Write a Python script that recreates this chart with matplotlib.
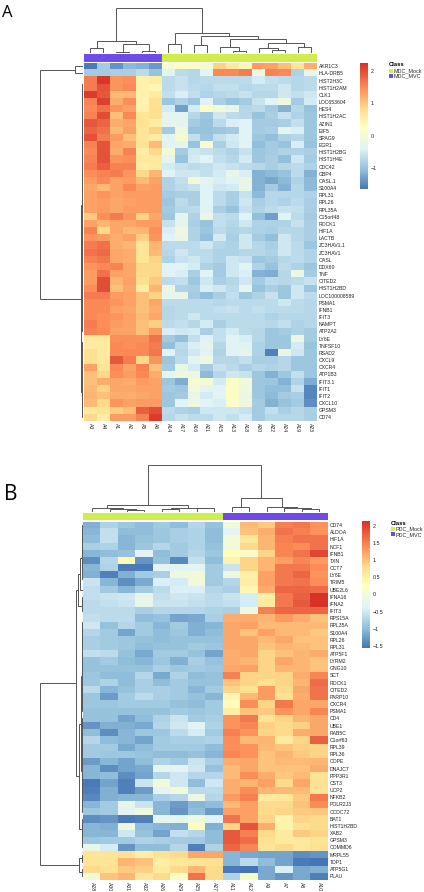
import numpy as np
import matplotlib
matplotlib.use('Agg')
import matplotlib.pyplot as plt
from matplotlib.colors import LinearSegmentedColormap
from matplotlib.patches import Rectangle

W, H = 424, 892

# Panel A data
a_samples = ['A3', 'A4', 'A1', 'A2', 'A5', 'A6', 'A14', 'A17', 'A16', 'A21', 'A15', 'A13',
             'A18', 'A20', 'A22', 'A24', 'A19', 'A23']
a_genes = ['AKR1C3', 'HLA-DRB5', 'HIST2H3C', 'HIST1H2AM', 'CLK1', 'LOC653604', 'HES4', 'HIST1H2AC',
           'AZIN1', 'EIF5', 'SPAG9', 'EGR1', 'HIST1H2BG', 'HIST1H4E', 'CDC42', 'GBP4', 'OASL.1',
           'S100A4', 'RPL31', 'RPL26', 'RPL35A', 'C15orf48', 'ROCK1', 'HIF1A', 'LACTB', 'ZC3HAV1.1',
           'ZC3HAV1', 'OASL', 'DDX60', 'TNF', 'CITED2', 'HIST1H2BD', 'LOC100008589', 'PSMA1', 'IFNB1',
           'IFIT3', 'NAMPT', 'ATP2A2', 'LY6E', 'TNFSF10', 'RSAD2', 'CXCL9', 'CXCR4', 'ATP1B3', 'IFIT3.1',
           'IFIT1', 'IFIT2', 'CXCL10', 'GPSM3', 'CD74']
a_values = [
    [-1.6, -0.9, -1.4, -1.1, -1.15, -1.35, 0.1, 0.25, 0.2, 0.05, 0.9, 0.6, 0.4, 1.35, 1.3, 1.05, 0.7, 1.2],
    [-0.9, -0.9, -0.85, -0.85, -0.7, -1.0, -0.35, -0.7, -0.75, -0.3, 1.5, 1.5, 1.6, -0.1, 1.55, 1.5, -0.8, -0.2],
    [1.6, 2.2, 1.4, 1.45, 0.5, 0.55, -0.7, -0.6, -0.75, -0.7, -0.7, -0.7, -0.7, -0.5, -0.65, -0.7, -0.75, -0.7],
    [1.6, 1.95, 1.4, 1.5, 0.5, 0.4, -0.7, -0.6, -0.7, -0.75, -0.65, -0.65, -0.75, -0.7, -0.7, -0.55, -0.75, -0.7],
    [2.15, 1.9, 1.1, 1.1, 0.5, 0.6, -0.65, -0.45, -0.65, -0.8, -0.75, -0.7, -0.6, -0.75, -0.75, -0.55, -0.65, -0.55],
    [1.55, 2.1, 1.2, 1.45, 0.45, 0.8, -0.95, -0.8, -0.95, -0.4, -0.85, -1.0, -0.9, -0.6, -0.4, -0.1, -0.9, -0.5],
    [1.5, 1.7, 1.4, 1.3, 0.5, 0.8, -0.5, -1.3, -0.5, 0.2, -0.05, -0.2, -0.75, -0.7, -0.9, -1.15, -0.75, -1.0],
    [1.55, 2.0, 1.05, 1.5, 0.7, 0.8, -0.3, -0.3, -0.75, -0.95, -0.55, -0.7, -0.75, -1.0, -0.85, -0.6, -0.8, -0.95],
    [1.9, 1.8, 1.2, 1.25, 0.75, 0.55, -0.3, -0.3, -0.9, -1.0, -0.7, -0.45, -0.4, -0.9, -0.9, -0.85, -0.65, -0.95],
    [1.8, 1.7, 1.1, 1.3, 0.7, 0.9, -0.9, -0.1, -1.0, -1.0, -0.95, -0.9, -0.4, -0.9, -0.85, -0.25, -0.45, -0.95],
    [1.95, 1.6, 1.35, 1.05, 0.7, 0.6, -0.35, 0.05, -0.65, -0.95, -0.65, -0.5, -0.4, -0.95, -1.05, -0.8, -0.75, -0.95],
    [1.55, 1.95, 1.25, 1.2, 0.75, 1.1, -0.4, -0.25, -1.0, 0.1, -0.85, -0.55, -0.35, -1.05, -0.9, -1.0, -0.45, -1.0],
    [1.5, 1.95, 1.2, 1.55, 0.55, 0.85, 0.0, -0.9, -0.55, -0.6, -0.7, -0.8, -0.6, -0.95, -0.9, -0.8, -0.8, -0.85],
    [1.55, 1.95, 1.4, 1.45, 0.65, 0.65, -0.3, -1.0, -0.5, -0.4, -0.65, -0.75, -0.5, -0.95, -0.85, -1.05, -0.55, -0.9],
    [1.6, 1.85, 1.55, 1.55, 0.55, 0.6, -0.5, -0.6, -0.7, -0.65, -0.55, -0.6, -0.7, -0.75, -0.85, -0.75, -0.7, -0.8],
    [1.45, 1.55, 1.6, 1.4, 0.85, 1.15, -0.35, -0.55, -0.55, -0.65, -0.5, -0.2, -0.45, -1.15, -1.1, -1.0, -0.7, -1.15],
    [1.35, 1.5, 1.3, 1.35, 1.1, 1.3, -0.8, -0.65, 0.0, -0.3, -0.45, -0.4, -0.2, -1.15, -1.25, -1.1, -0.8, -1.1],
    [1.25, 1.1, 1.3, 1.5, 1.3, 1.35, -0.8, -0.7, -0.6, -0.4, -0.55, -0.5, -0.2, -1.15, -0.9, -1.15, -0.75, -1.1],
    [1.3, 1.4, 1.3, 1.35, 1.35, 1.35, -0.9, -0.85, -0.85, -0.4, -0.7, -0.85, -0.6, -1.1, -0.75, -0.75, -0.75, -0.8],
    [1.3, 1.35, 1.25, 1.3, 1.35, 1.35, -0.95, -0.7, -0.85, -0.4, -0.7, -0.85, -0.55, -0.85, -0.75, -0.8, -0.7, -0.85],
    [1.3, 1.35, 1.25, 1.35, 1.35, 1.35, -0.9, -0.75, -0.7, -0.4, -0.85, -1.0, -0.6, -0.8, -0.7, -0.6, -0.65, -0.85],
    [1.0, 1.45, 1.6, 1.4, 0.9, 1.25, -0.95, -0.3, -0.8, -0.15, -0.65, -0.7, -0.4, -1.05, -1.3, -0.35, -0.7, -0.9],
    [1.3, 1.15, 1.25, 1.25, 1.35, 1.35, -0.6, -0.25, -0.85, -1.0, -0.65, -0.75, -0.55, -0.8, -0.8, -0.8, -0.6, -0.85],
    [1.55, 0.85, 1.25, 1.1, 1.15, 1.45, -0.45, -0.1, -0.8, -0.95, -0.7, -0.8, -0.75, -0.8, -0.85, -0.75, -0.75, -0.85],
    [1.4, 1.35, 1.2, 1.3, 0.95, 1.4, -0.4, -0.15, -0.8, -1.05, -0.5, -0.85, -0.55, -0.9, -1.05, -0.55, -0.75, -0.85],
    [1.6, 1.7, 1.2, 1.15, 0.7, 1.15, -0.7, -0.7, -0.7, -0.55, -0.75, -0.8, -0.55, -0.75, -0.85, -0.55, -0.7, -0.95],
    [1.7, 1.75, 1.25, 1.2, 0.7, 1.1, -0.75, -0.55, -0.7, -0.7, -0.8, -0.8, -0.75, -0.75, -0.8, -0.55, -0.7, -0.8],
    [1.55, 1.65, 1.25, 1.2, 0.7, 0.9, -0.8, -0.6, -0.55, -0.7, -0.8, -0.55, -0.6, -0.95, -0.9, -0.75, -0.7, -0.8],
    [1.4, 1.5, 1.55, 1.25, 0.85, 0.85, -0.4, -0.4, -0.5, -0.8, -0.9, -0.55, -0.35, -0.8, -1.0, -0.7, -0.8, -0.95],
    [1.35, 1.7, 1.3, 1.25, 0.85, 0.85, -0.4, -0.45, -0.85, -0.4, -0.9, -0.55, -0.45, -1.15, -1.2, -0.75, -0.15, -0.9],
    [1.35, 2.0, 1.15, 1.3, 0.8, 1.0, -0.7, -0.65, -0.95, -0.55, -0.85, -0.75, -0.55, -0.9, -0.7, -0.75, -0.7, -0.6],
    [1.45, 2.0, 1.05, 1.25, 0.55, 1.15, -0.15, -0.8, -0.85, -0.45, -0.55, -0.7, -0.25, -1.0, -0.85, -0.95, -0.55, -0.95],
    [1.6, 1.6, 1.35, 1.3, 1.05, 0.9, -0.25, -0.2, -0.9, -1.05, -0.85, -0.65, -0.95, -0.8, -0.6, -0.95, -0.55, -0.7],
    [1.5, 1.5, 1.4, 1.3, 1.05, 1.25, -0.7, -0.7, -0.7, -0.7, -0.75, -0.7, -0.7, -0.7, -0.7, -0.55, -0.7, -0.75],
    [1.5, 1.5, 1.3, 1.25, 1.05, 1.2, -0.75, -0.7, -0.7, -0.7, -0.65, -0.6, -0.7, -0.65, -0.7, -0.7, -0.7, -0.75],
    [1.5, 1.45, 1.4, 1.3, 1.1, 1.25, -0.75, -0.7, -0.55, -0.7, -0.7, -0.7, -0.7, -0.7, -0.8, -0.75, -0.75, -0.75],
    [1.6, 1.45, 1.35, 1.3, 1.05, 0.95, -0.7, -0.65, -0.75, -0.5, -0.85, -0.7, -0.7, -0.7, -0.75, -0.65, -0.8, -0.75],
    [1.55, 1.5, 1.3, 1.3, 1.05, 1.35, -0.45, -0.55, -0.5, -0.85, -0.65, -0.5, -0.7, -0.75, -0.95, -0.9, -0.8, -0.9],
    [0.65, 0.65, 1.45, 1.45, 1.45, 1.7, -0.9, -1.05, -0.65, -0.4, -0.65, -0.35, -0.45, -0.75, -0.95, -0.95, -0.15, -0.9],
    [0.6, 0.6, 1.5, 1.45, 1.5, 1.6, -1.05, -0.7, -0.45, -0.25, -0.75, -0.35, -0.35, -0.8, -0.95, -0.95, -0.5, -1.0],
    [0.8, 0.6, 1.5, 1.5, 1.5, 1.65, -0.35, -0.75, -0.55, -0.4, -0.8, -0.4, -0.25, -0.8, -1.55, -0.2, -0.55, -0.95],
    [0.8, 0.65, 1.9, 1.6, 0.85, 1.4, -0.95, -0.7, -0.3, -0.1, -0.75, -0.75, -0.65, -0.85, -0.85, -0.75, -0.95, -0.95],
    [1.3, 0.7, 1.5, 1.3, 1.55, 1.05, -0.9, -0.2, -0.5, -0.9, -0.6, -0.7, -0.85, -0.75, -0.8, -0.75, -0.95, -0.95],
    [1.05, 0.85, 1.45, 1.35, 1.5, 1.2, -0.3, -0.1, -0.15, -1.1, -0.75, -0.55, -0.6, -0.95, -1.15, -0.95, -0.65, -0.95],
    [1.05, 1.2, 1.25, 1.2, 1.35, 1.3, -0.95, -1.2, 0.05, 0.05, -0.5, 0.2, -0.05, -0.95, -0.95, -1.15, -0.8, -1.2],
    [1.1, 0.9, 1.25, 1.25, 1.3, 1.3, -0.9, -0.95, -0.05, -0.3, -0.4, 0.15, -0.1, -0.95, -1.05, -1.05, -0.6, -1.5],
    [1.15, 1.05, 1.2, 1.2, 1.25, 1.3, -0.95, -0.9, -0.2, -0.5, -0.3, 0.2, -0.15, -0.95, -1.1, -0.9, -0.85, -1.5],
    [1.1, 0.85, 1.4, 1.3, 1.35, 1.35, -0.95, -0.4, -0.1, -0.4, -0.45, 0.15, -0.1, -0.9, -1.15, -1.0, -0.9, -1.45],
    [0.65, 0.75, 0.95, 1.05, 1.85, 2.0, -0.7, -0.8, -0.85, -0.55, -0.55, -0.55, -0.6, -0.9, -0.65, -0.85, -0.75, -0.85],
    [0.85, 0.55, 1.35, 1.35, 1.55, 2.15, -0.75, -0.6, -0.7, -0.7, -0.55, -0.65, -0.5, -0.9, -0.75, -0.75, -0.75, -0.85],
]
a_classes = ['MDC_MVC'] * 6 + ['MDC_Mock'] * 12
# merge height between neighbouring leaves, in pixels of the dendrogram
a_col_gaps = [4.4, 12, 1, 8.7, 2, 44.4, 8.7, 19.4, 8, 16.7, 5.4, 2, 13.4, 5, 2.7, 9.4, 5.4]
a_row_gaps = [7.7, 43.3, 0.5, 0.7, 0.9, 0.6, 1.0, 0.5, 0.8, 0.6, 0.9, 0.5, 0.6, 0.4, 1.3, 0.5, 0.6, 1.5, 0.4,
              0.3, 0.3, 0.9, 0.5, 0.7, 0.6, 1.1, 0.5, 0.4, 0.7, 0.9, 0.6, 0.8, 1.0, 0.5, 0.3, 0.4, 0.6,
              1.9, 0.5, 0.7, 1.1, 0.8, 1.3, 0.9, 0.5, 0.4, 0.7, 1.5, 0.8]

# Panel B data
b_samples = ['A28', 'A30', 'A31', 'A32', 'A26', 'A29', 'A25', 'A27', 'A11', 'A12', 'A9', 'A7', 'A8', 'A10']
b_genes = ['CD74', 'ALDOA', 'HIF1A', 'NCF1', 'IFNB1', 'TXN', 'CCT7', 'LY6E', 'TRIM5', 'UBE2L6', 'IFNA16', 'IFNA2',
           'IFIT3', 'RPS15A', 'RPL35A', 'S100A4', 'RPL26', 'RPL31', 'ATP5F1', 'LYRM2', 'GNG10', 'SCT', 'ROCK1',
           'CITED2', 'PARP10', 'CXCR4', 'PSMA1', 'CD4', 'UBE1', 'RAB5C', 'C1orf63', 'RPL39', 'RPL36', 'COPE',
           'DNAJC7', 'PPP3R1', 'CST3', 'UCP2', 'NFKB2', 'POLR2J3', 'CCDC72', 'BAT1', 'HIST1H2BD', 'XAB2', 'GPSM3',
           'COMMD6', 'MRPL55', 'TDP1', 'ATP5G1', 'PLAU']
b_values = [
    [-1.1, -0.75, -0.9, -1.0, -0.85, -1.0, -0.7, -0.95, -0.05, 1.05, 0.95, 1.5, 1.55, 1.35],
    [-1.05, -0.6, -1.0, -1.0, -0.9, -0.8, -0.75, -1.0, -0.3, 1.0, 1.15, 1.6, 1.5, 1.35],
    [-1.0, -0.6, -1.05, -0.95, -0.9, -0.8, -0.75, -1.0, 0.0, 0.65, 1.1, 1.5, 1.6, 1.6],
    [-0.8, -0.75, -1.05, -0.9, -0.7, -0.85, -0.75, -0.95, -0.05, 0.8, 1.1, 1.45, 1.4, 1.6],
    [-1.05, -1.0, -0.95, -0.35, -1.0, -0.85, -0.7, -0.9, 0.3, 0.15, 0.85, 1.45, 1.6, 1.95],
    [-1.35, -0.7, 0.35, -1.3, -0.95, -1.4, -0.6, -1.0, 0.45, 0.85, 1.1, 1.25, 1.45, 1.3],
    [-1.05, -0.75, -1.5, -1.5, -0.3, -0.3, -0.3, -0.85, -0.55, 0.85, 1.1, 1.55, 1.55, 1.4],
    [-1.1, -1.45, -1.1, -0.85, -0.8, -0.1, -0.05, -0.85, -0.1, 0.5, 1.25, 1.55, 1.7, 1.35],
    [-0.55, -1.05, -1.35, -1.15, -0.4, -0.45, -0.05, -0.85, -0.7, 0.55, 1.25, 1.55, 1.6, 1.4],
    [-0.6, -0.85, -1.05, -0.85, -0.65, -0.4, -0.4, -0.7, -0.8, 0.4, 1.15, 1.7, 1.7, 1.65],
    [-0.6, -0.55, -0.5, -0.2, -0.6, -0.5, -0.55, -0.65, -0.55, -0.45, 0.55, 1.55, 1.75, 2.1],
    [-0.65, -0.6, -0.55, -0.2, -0.55, -0.55, -0.6, -0.65, -0.6, -0.45, 0.6, 1.55, 1.8, 2.1],
    [-0.65, -0.65, -0.65, -0.8, -0.7, -0.7, -0.7, -0.75, -0.8, -0.1, 1.5, 1.7, 1.7, 1.7],
    [-0.6, -0.65, -0.65, -1.0, -0.95, -1.2, -1.15, -0.8, 1.15, 1.15, 1.1, 1.3, 1.15, 1.0],
    [-0.5, -0.95, -0.7, -0.85, -1.05, -0.85, -1.1, -1.05, 1.2, 1.25, 1.05, 1.05, 1.05, 1.05],
    [-0.7, -0.85, -1.2, -0.85, -1.0, -0.9, -1.1, -1.0, 1.2, 1.0, 1.25, 1.05, 1.05, 0.95],
    [-0.8, -0.85, -0.9, -0.95, -1.0, -0.95, -0.95, -0.95, 1.2, 1.2, 1.05, 1.2, 1.0, 1.0],
    [-0.8, -0.85, -0.9, -1.0, -0.95, -0.95, -0.85, -0.9, 1.2, 1.2, 1.0, 1.1, 1.05, 1.0],
    [-0.6, -0.65, -0.95, -1.15, -0.85, -0.85, -0.95, -1.2, 1.15, 1.2, 0.85, 1.0, 1.1, 1.15],
    [-0.95, -0.85, -1.0, -1.05, -0.9, -1.1, -0.8, -0.95, 1.15, 1.1, 0.85, 1.2, 1.1, 1.0],
    [-0.95, -0.95, -0.95, -0.95, -0.8, -0.9, -0.85, -0.9, 1.2, 1.25, 0.85, 1.1, 1.1, 1.0],
    [-0.9, -1.0, -1.0, -0.7, -1.15, -0.75, -1.0, -0.95, 1.5, 0.85, 0.85, 0.85, 1.15, 1.45],
    [-0.9, -0.75, -1.0, -0.8, -1.0, -0.85, -0.95, -0.95, 1.0, 0.85, 0.75, 0.85, 1.1, 1.65],
    [-0.65, -1.05, -0.95, -0.8, -0.8, -0.85, -1.05, -0.85, 0.85, 0.75, 1.3, 0.8, 1.2, 1.6],
    [-0.9, -1.25, -0.85, -0.65, -0.8, -0.85, -0.95, -1.05, 0.4, 1.05, 1.3, 0.75, 1.15, 1.6],
    [-0.9, -0.9, -0.85, -0.85, -0.85, -0.95, -1.0, -0.85, 0.3, 1.4, 0.85, 1.55, 1.2, 1.2],
    [-0.95, -0.95, -0.95, -0.95, -0.95, -0.85, -0.9, -0.85, 0.55, 1.0, 0.95, 1.35, 1.2, 1.45],
    [-0.95, -0.95, -1.2, -1.0, -0.75, -0.55, -0.85, -0.8, 1.35, 1.55, 0.7, 0.85, 1.1, 1.2],
    [-1.3, -1.1, -1.1, -1.15, -0.7, -0.5, -0.35, -0.75, 1.35, 1.45, 0.9, 0.8, 0.9, 1.2],
    [-1.0, -1.35, -1.05, -0.9, -0.9, -0.65, -0.45, -0.85, 1.5, 1.35, 0.85, 0.8, 1.15, 1.2],
    [-0.7, -1.0, -1.05, -1.2, -0.85, -0.8, -0.8, -0.75, 1.4, 1.05, 1.1, 0.6, 0.85, 1.75],
    [-0.85, -0.85, -1.15, -1.0, -0.85, -0.85, -0.85, -1.0, 1.4, 1.35, 1.05, 1.0, 0.9, 0.85],
    [-0.85, -0.9, -0.9, -0.95, -1.0, -1.0, -0.95, -1.05, 1.45, 1.35, 1.0, 1.1, 0.95, 0.85],
    [-1.25, -1.05, -1.2, -1.0, -0.75, -0.85, -0.55, -0.8, 1.15, 1.2, 1.0, 1.05, 1.05, 1.1],
    [-1.05, -1.35, -1.2, -1.15, -0.25, -0.3, -0.5, -0.95, 1.05, 1.2, 1.0, 1.0, 1.0, 1.15],
    [-1.05, -1.0, -1.35, -1.2, -0.7, -0.5, -0.7, -0.7, 1.05, 1.4, 1.15, 0.95, 1.05, 0.7],
    [-1.5, -1.2, -1.45, -0.55, -0.05, -0.5, -1.0, -0.5, 1.15, 1.1, 1.25, 0.8, 1.2, 0.75],
    [-1.45, -1.1, -1.45, -1.25, -0.3, -0.05, -0.65, -0.65, 1.15, 1.4, 1.1, 1.05, 1.05, 0.7],
    [-1.4, -1.1, -1.05, -1.05, -0.8, -0.7, -0.15, -0.7, 1.3, 1.5, 0.6, 0.65, 0.95, 1.55],
    [-1.05, -0.85, -0.2, -0.55, -1.05, -1.25, -1.05, -1.0, 1.05, 1.25, 0.8, 0.8, 1.0, 1.4],
    [-0.9, -0.85, -0.3, -0.1, -1.05, -1.3, -1.0, -1.25, 1.25, 1.25, 0.8, 0.85, 0.95, 0.95],
    [-1.35, -1.3, -1.5, -1.45, -0.25, -0.25, -0.1, -0.35, 1.6, 1.25, 0.85, 0.45, 0.85, 0.8],
    [-1.05, -1.1, -0.1, -1.0, -1.05, -1.1, 0.3, -1.1, 0.85, 1.85, 1.15, 0.45, 0.75, 0.8],
    [-1.05, -1.05, -0.5, -0.95, -1.2, -0.6, -0.7, -1.0, 1.8, 1.5, 0.8, 0.6, 0.95, 0.85],
    [-0.9, -0.85, -0.85, -0.75, -0.8, -0.85, -0.85, -1.0, 1.8, 1.65, 0.75, 0.6, 0.6, 0.7],
    [-0.2, -0.45, -1.3, -1.0, -1.0, -0.7, -1.45, -0.75, 1.7, 1.45, 0.7, 0.8, 0.65, 0.75],
    [0.7, 0.7, 0.75, 0.55, 0.75, 0.8, 1.2, 1.2, -1.05, -1.15, -1.2, -1.2, -1.35, -1.3],
    [0.7, 0.7, 1.1, 1.0, 0.55, 0.65, 0.7, 0.75, -1.05, -0.65, -1.0, -1.2, -1.5, -1.55],
    [0.8, 0.75, 0.95, 0.9, 0.6, 0.8, 1.1, 0.8, -1.5, -1.55, -1.15, -0.4, -1.15, -1.1],
    [-0.05, 1.0, 1.1, 0.65, 0.8, 0.2, 1.6, 0.8, -0.75, 0.15, -1.15, -1.3, -1.15, -1.45],
]
b_classes = ['PDC_Mock'] * 8 + ['PDC_MVC'] * 6
b_col_gaps = [4, 3, 2, 6.4, 2.5, 4, 3.4, 46.7, 4.3, 13.3, 5, 3.4, 2.3]
b_row_gaps = [0.6, 0.8, 0.5, 1.0, 1.3, 0.7, 0.9, 0.5, 2.7, 4.7, 0.6, 1.5, 6.7,
              0.5, 0.7, 0.9, 0.4, 1.1, 0.5, 0.6, 0.8, 1.3, 0.5, 0.7, 0.9, 0.6, 1.6, 0.7, 0.5, 0.9, 1.1,
              0.4, 0.6, 0.8, 1.3, 0.5, 0.7, 1.0, 0.6, 0.8, 3.7, 1.4, 0.9, 0.6, 1.2,
              43.3, 1.2, 3.7, 1.5]

class_colors = {'MDC_Mock': '#CFEE4B', 'MDC_MVC': '#6F4BE8', 'PDC_Mock': '#CFEE4B', 'PDC_MVC': '#6F4BE8'}
heat_cmap = LinearSegmentedColormap.from_list(
    'pheat', [(0, '#4575B4'), (0.15, '#91BFDB'), (0.32, '#E0F3F8'), (0.49, '#FFFFBF'),
              (0.63, '#FEE090'), (0.80, '#FC8D59'), (1, '#D73027')])

plt.rcParams['font.family'] = ['Liberation Sans', 'DejaVu Sans']
fig = plt.figure(figsize=(W / 100, H / 100), dpi=100, facecolor='white')
LINE = '#555555'


def px_axes(x0, y0, x1, y1):
    # axes placed from pixel box, y counted from the top of the image
    ax = fig.add_axes([x0 / W, 1 - y1 / H, (x1 - x0) / W, (y1 - y0) / H])
    ax.axis('off')
    return ax


def tree_segments(gaps, lo, hi, segs):
    # leaves lo..hi, split at the highest gap; returns (position, height)
    if lo == hi:
        return lo + 0.5, 0.0
    cut = lo + int(np.argmax(gaps[lo:hi]))
    h = gaps[cut]
    p1, h1 = tree_segments(gaps, lo, cut, segs)
    p2, h2 = tree_segments(gaps, cut + 1, hi, segs)
    segs.append(([p1, h], [p2, h], [p1, h1], [p2, h2]))
    return (p1 + p2) / 2, h


def draw_dendro(ax, gaps, n, horizontal):
    segs = []
    tree_segments(gaps, 0, n - 1, segs)
    for a, b, c, d in segs:
        pos = [c[0], a[0], b[0], d[0]]
        hts = [c[1], a[1], b[1], d[1]]
        if horizontal:
            ax.plot(pos, hts, color=LINE, lw=0.7, solid_joinstyle='miter')
        else:
            ax.plot(hts, pos, color=LINE, lw=0.7, solid_joinstyle='miter')


def panel(values, genes, samples, classes, col_gaps, row_gaps, box, bar, col_box, row_box,
          cbar_box, vmin, vmax, ticks, tick_labels, legend_xy, letter, letter_xy, letter_size):
    values = np.array(values)
    nrow, ncol = values.shape
    x0, y0, x1, y1 = box

    ax = px_axes(x0, y0, x1, y1)
    ax.axis('on')
    im = ax.imshow(values, aspect='auto', cmap=heat_cmap, vmin=vmin, vmax=vmax, interpolation='nearest')
    for s in ax.spines.values():
        s.set_visible(False)
    ax.yaxis.tick_right()
    ax.set_yticks(range(nrow), genes, fontsize=3.7, color='#222222')
    ax.set_xticks(range(ncol), samples, fontsize=3.7, rotation=270, color='#222222')
    ax.tick_params(length=0, pad=1.4)

    # class annotation bar
    bar_ax = px_axes(x0, bar[0], x1, bar[1])
    bar_ax.set_xlim(0, ncol)
    bar_ax.set_ylim(0, 1)
    for i, c in enumerate(classes):
        bar_ax.add_patch(Rectangle((i, 0), 1, 1, color=class_colors[c], lw=0))

    # column dendrogram
    top_ax = px_axes(x0, col_box[0], x1, col_box[1])
    top_ax.set_xlim(0, ncol)
    top_ax.set_ylim(0, col_box[1] - col_box[0])
    draw_dendro(top_ax, col_gaps, ncol, True)

    # row dendrogram
    left_ax = px_axes(row_box[0], y0, row_box[1], y1)
    left_ax.set_xlim(row_box[1] - row_box[0], 0)
    left_ax.set_ylim(nrow, 0)
    draw_dendro(left_ax, row_gaps, nrow, False)

    # colour scale
    cax = fig.add_axes([cbar_box[0] / W, 1 - cbar_box[3] / H, (cbar_box[2] - cbar_box[0]) / W,
                        (cbar_box[3] - cbar_box[1]) / H])
    cb = fig.colorbar(im, cax=cax)
    cb.outline.set_visible(False)
    cb.set_ticks(ticks, labels=tick_labels)
    cb.ax.tick_params(length=0, labelsize=3.9, pad=2, labelcolor='#222222')

    # class legend
    lx, ly = legend_xy
    fig.text(lx / W, 1 - ly / H, 'Class', fontsize=4.2, fontweight='bold', va='center', ha='left')
    names = sorted(set(classes), key=lambda c: c.endswith('MVC'))
    for i, name in enumerate(names):
        yy = ly + 5.6 + 5.5 * i
        fig.patches.append(Rectangle((lx / W, 1 - (yy + 2) / H), 4 / W, 4 / H, color=class_colors[name],
                                     lw=0, transform=fig.transFigure))
        fig.text((lx + 5) / W, 1 - yy / H, name, fontsize=3.9, va='center', ha='left', color='#222222')

    fig.text(letter_xy[0] / W, 1 - letter_xy[1] / H, letter, fontsize=letter_size, family='Open Sans',
             va='baseline', ha='left', color='black')


panel(a_values, a_genes, a_samples, a_classes, a_col_gaps, a_row_gaps,
      (84, 62.7, 317, 421), (54, 61.5), (6, 52.7), (36, 83),
      (360, 62.7, 368, 189), -1.65, 2.25, [-1, 0, 1, 2], ['\u22121', '0', '1', '2'],
      (389, 65), 'A', (2.5, 17.3), 12)

panel(b_values, b_genes, b_samples, b_classes, b_col_gaps, b_row_gaps,
      (83.3, 521.5, 328, 879.6), (512.7, 520), (460, 511.7), (36, 83),
      (361.7, 521, 370, 647.7), -1.55, 2.14, [-1.5, -1, -0.5, 0, 0.5, 1, 1.5, 2],
      ['\u22121.5', '\u22121', '\u22120.5', '0', '0.5', '1', '1.5', '2'],
      (391, 523.3), 'B', (3.5, 500), 15)

fig.savefig('out.png', dpi=100)
